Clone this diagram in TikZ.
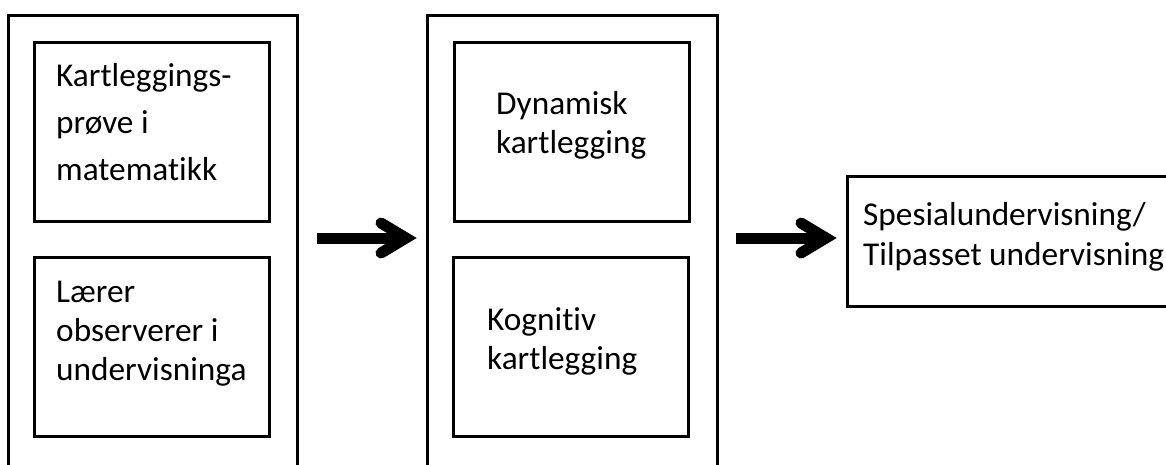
\documentclass[tikz,border=0pt]{standalone}
\usepackage{fontspec}
\setmainfont{Carlito}[Ligatures=NoCommon]
\newcommand{\lines}[1]{\begin{tabular}[t]{@{}l@{}}#1\end{tabular}}
\begin{document}
\begin{tikzpicture}[x=1pt,y=-1pt,
  frame/.style={draw=black, line width=2.8pt, rectangle, inner sep=0pt},
  lbl/.style={anchor=base west, inner sep=0pt, font=\fontsize{33.3}{39}\selectfont},
  shaft/.style={line width=11pt, line cap=butt},
  chevron/.style={line width=11pt, line cap=round, line join=miter}
]
\clip (0,0) rectangle (1166,465);
\fill[white] (0,0) rectangle (1166,465);

% outer columns (running past the lower edge)
\node[frame, minimum width=289pt, minimum height=500pt, anchor=north west] (colL) at (7,14) {};
\node[frame, minimum width=290pt, minimum height=500pt, anchor=north west] (colM) at (426,14) {};

% inner boxes
\node[frame, minimum width=235pt, minimum height=179pt, anchor=north west] (b1) at (33,41) {};
\node[frame, minimum width=235pt, minimum height=179pt, anchor=north west] (b2) at (33,256) {};
\node[frame, minimum width=235pt, minimum height=179pt, anchor=north west] (b3) at (453,41) {};
\node[frame, minimum width=235pt, minimum height=179pt, anchor=north west] (b4) at (452,256) {};

% result box (running past the right edge)
\node[frame, minimum width=340pt, minimum height=130pt, anchor=north west] (res) at (846,175) {};

% labels
\node[lbl, font=\fontsize{33.3}{47}\selectfont] (t1) at (56,87) {\lines{Kartleggings-\\prøve i\\matematikk}};
\node[lbl] (t2) at (56,302) {\lines{Lærer\\observerer i\\undervisninga}};
\node[lbl] (t3) at (496,115) {\lines{Dynamisk\\kartlegging}};
\node[lbl] (t4) at (487,330) {\lines{Kognitiv\\kartlegging}};
\node[lbl, font=\fontsize{33.3}{40}\selectfont] (t5) at (863,225) {\lines{Spesialundervisning/\\Tilpasset undervisning}};

% arrows
\coordinate (a1s) at ([xshift=18pt]colL.east |- 0,238);
\coordinate (a1t) at ([xshift=-20pt]colM.west |- 0,238);
\coordinate (a2s) at ([xshift=17pt]colM.east |- 0,238);
\coordinate (a2t) at ([xshift=-20pt]res.west |- 0,238);

\draw[shaft] (a1s) -- (a1t);
\draw[chevron] ([shift={(-25,-15)}]a1t) -- (a1t) -- ([shift={(-25,15)}]a1t);
\draw[shaft] (a2s) -- (a2t);
\draw[chevron] ([shift={(-25,-15)}]a2t) -- (a2t) -- ([shift={(-25,15)}]a2t);
\end{tikzpicture}
\end{document}
